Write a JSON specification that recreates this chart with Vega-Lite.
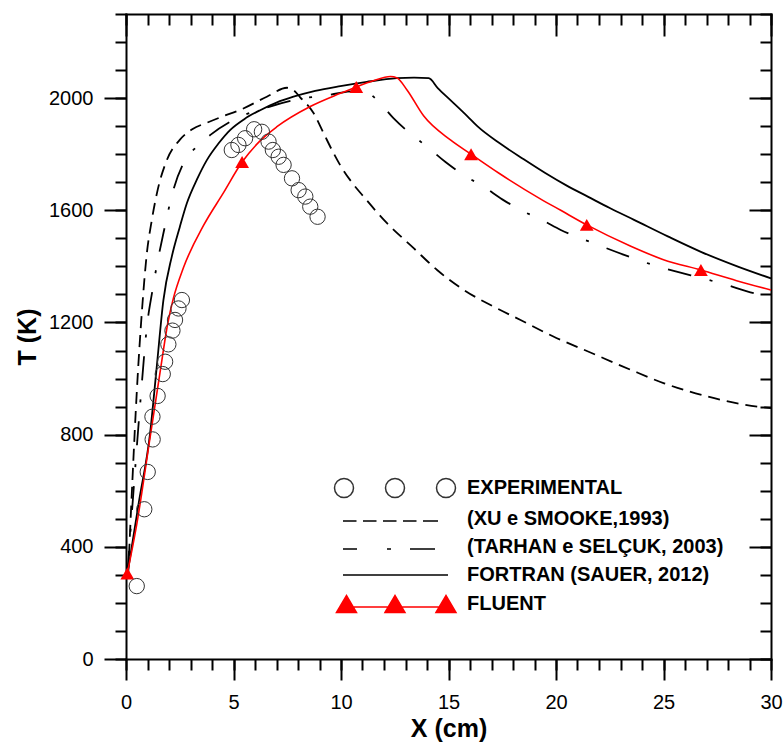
{
  "$schema": "https://vega.github.io/schema/vega-lite/v6.json",
  "width": 645,
  "height": 645,
  "autosize": {"type": "none"},
  "padding": {"left": 126, "top": 14, "right": 12, "bottom": 83},
  "background": "white",
  "config": {
    "view": {"stroke": null},
    "font": "Liberation Sans",
    "axis": {
      "grid": false,
      "domainColor": "black",
      "domainWidth": 2,
      "domainCap": "square",
      "tickColor": "black",
      "tickWidth": 2,
      "labelFont": "Liberation Sans",
      "labelFontSize": 20,
      "labelColor": "black",
      "labelFlush": false,
      "labelOverlap": false,
      "titleFont": "Liberation Sans",
      "titleFontSize": 25,
      "titleFontWeight": "bold",
      "titleColor": "black"
    }
  },
  "datasets": {
    "xu": [
      {"x": 0.1, "T": 300}, {"x": 0.3, "T": 640}, {"x": 0.5, "T": 950}, {"x": 0.75, "T": 1250},
      {"x": 0.96, "T": 1440}, {"x": 1.2, "T": 1565}, {"x": 1.45, "T": 1665}, {"x": 1.9, "T": 1779},
      {"x": 2.5, "T": 1851}, {"x": 3.1, "T": 1890}, {"x": 3.76, "T": 1912}, {"x": 4.5, "T": 1935},
      {"x": 5.31, "T": 1958}, {"x": 6.55, "T": 2005}, {"x": 7.49, "T": 2037}, {"x": 7.8, "T": 2028},
      {"x": 8.1, "T": 2003}, {"x": 8.73, "T": 1946}, {"x": 9.19, "T": 1875}, {"x": 9.66, "T": 1803},
      {"x": 9.97, "T": 1760}, {"x": 10.5, "T": 1700}, {"x": 11.05, "T": 1649}, {"x": 12.14, "T": 1554}, {"x": 13.38, "T": 1465},
      {"x": 14.47, "T": 1387}, {"x": 15.71, "T": 1316}, {"x": 17.11, "T": 1256}, {"x": 18.35, "T": 1209},
      {"x": 19.9, "T": 1149}, {"x": 21.6, "T": 1093}, {"x": 23.48, "T": 1031}, {"x": 25.03, "T": 983},
      {"x": 27.36, "T": 930}, {"x": 29.38, "T": 900}, {"x": 30, "T": 895}
    ],
    "tarhan": [
      {"x": 0.06, "T": 300}, {"x": 0.35, "T": 600}, {"x": 0.65, "T": 900}, {"x": 0.99, "T": 1197},
      {"x": 1.22, "T": 1310}, {"x": 1.45, "T": 1410}, {"x": 1.74, "T": 1518}, {"x": 2.2, "T": 1672},
      {"x": 2.75, "T": 1779}, {"x": 3.29, "T": 1827}, {"x": 3.91, "T": 1868}, {"x": 5.0, "T": 1922},
      {"x": 6.7, "T": 1970}, {"x": 8.0, "T": 1996}, {"x": 9.5, "T": 2012}, {"x": 10.6, "T": 2025},
      {"x": 11.2, "T": 2020}, {"x": 11.68, "T": 1993}, {"x": 12.45, "T": 1928}, {"x": 13.2, "T": 1875},
      {"x": 14.0, "T": 1827}, {"x": 14.86, "T": 1772}, {"x": 15.7, "T": 1726}, {"x": 16.64, "T": 1684},
      {"x": 17.5, "T": 1639}, {"x": 18.35, "T": 1601}, {"x": 19.36, "T": 1565}, {"x": 20.22, "T": 1530},
      {"x": 21.77, "T": 1482}, {"x": 23.17, "T": 1441}, {"x": 24.64, "T": 1402}, {"x": 26.27, "T": 1368},
      {"x": 27.8, "T": 1337}, {"x": 29.22, "T": 1304}, {"x": 30, "T": 1293}
    ],
    "fortran": [
      {"x": 0.06, "T": 300}, {"x": 0.6, "T": 560}, {"x": 1.12, "T": 805}, {"x": 1.43, "T": 1042},
      {"x": 1.74, "T": 1280}, {"x": 2.13, "T": 1435}, {"x": 2.5, "T": 1540}, {"x": 2.83, "T": 1625},
      {"x": 3.3, "T": 1710}, {"x": 3.76, "T": 1779}, {"x": 4.3, "T": 1838}, {"x": 4.84, "T": 1886},
      {"x": 5.5, "T": 1925}, {"x": 6.24, "T": 1957}, {"x": 7.0, "T": 1984}, {"x": 7.79, "T": 2005},
      {"x": 8.8, "T": 2026}, {"x": 9.97, "T": 2043}, {"x": 11.2, "T": 2058}, {"x": 12.6, "T": 2071},
      {"x": 13.4, "T": 2073}, {"x": 14.08, "T": 2071}, {"x": 14.5, "T": 2036}, {"x": 15.09, "T": 1993},
      {"x": 15.87, "T": 1936}, {"x": 16.34, "T": 1900}, {"x": 17.4, "T": 1838}, {"x": 18.5, "T": 1782},
      {"x": 19.5, "T": 1733}, {"x": 20.5, "T": 1688}, {"x": 21.5, "T": 1648}, {"x": 22.5, "T": 1608},
      {"x": 23.63, "T": 1566}, {"x": 25.2, "T": 1507}, {"x": 26.74, "T": 1452}, {"x": 28.4, "T": 1401},
      {"x": 30, "T": 1357}
    ],
    "fluent": [
      {"x": 0.06, "T": 305}, {"x": 0.5, "T": 480}, {"x": 1.12, "T": 790}, {"x": 1.58, "T": 1020},
      {"x": 1.95, "T": 1200}, {"x": 2.2, "T": 1285}, {"x": 2.67, "T": 1395}, {"x": 3.6, "T": 1545},
      {"x": 4.53, "T": 1662}, {"x": 5.4, "T": 1772}, {"x": 6.2, "T": 1845}, {"x": 7.02, "T": 1898},
      {"x": 8.57, "T": 1970}, {"x": 9.97, "T": 2017}, {"x": 10.71, "T": 2040}, {"x": 11.5, "T": 2062},
      {"x": 12.3, "T": 2077}, {"x": 12.61, "T": 2072}, {"x": 13.07, "T": 2029}, {"x": 13.85, "T": 1936},
      {"x": 15.09, "T": 1851}, {"x": 16.05, "T": 1800}, {"x": 17.35, "T": 1732}, {"x": 19.29, "T": 1640},
      {"x": 20.22, "T": 1600}, {"x": 21.43, "T": 1548}, {"x": 23.48, "T": 1472}, {"x": 25.0, "T": 1424},
      {"x": 26.74, "T": 1387}, {"x": 28.4, "T": 1349}, {"x": 30, "T": 1316}
    ],
    "fluent_markers": [
      {"x": 0.06, "T": 305}, {"x": 5.4, "T": 1772}, {"x": 10.71, "T": 2040},
      {"x": 16.05, "T": 1800}, {"x": 21.43, "T": 1548}, {"x": 26.74, "T": 1387}
    ],
    "experimental": [
      {"x": 0.5, "T": 260}, {"x": 0.85, "T": 534}, {"x": 1.01, "T": 667}, {"x": 1.24, "T": 783},
      {"x": 1.23, "T": 864}, {"x": 1.47, "T": 938}, {"x": 1.71, "T": 1016}, {"x": 1.82, "T": 1060},
      {"x": 1.97, "T": 1122}, {"x": 2.16, "T": 1171}, {"x": 2.28, "T": 1209}, {"x": 2.44, "T": 1250},
      {"x": 2.6, "T": 1280},
      {"x": 4.92, "T": 1815}, {"x": 5.23, "T": 1833}, {"x": 5.54, "T": 1857}, {"x": 5.96, "T": 1889},
      {"x": 6.32, "T": 1880}, {"x": 6.63, "T": 1845}, {"x": 6.83, "T": 1815}, {"x": 7.1, "T": 1791},
      {"x": 7.33, "T": 1762}, {"x": 7.72, "T": 1714}, {"x": 8.03, "T": 1672}, {"x": 8.34, "T": 1649},
      {"x": 8.57, "T": 1613}, {"x": 8.91, "T": 1577}
    ],
    "series": [
      {"series": "EXPERIMENTAL"},
      {"series": "(XU e SMOOKE,1993)"},
      {"series": "(TARHAN e SELÇUK, 2003)"},
      {"series": "FORTRAN (SAUER, 2012)"},
      {"series": "FLUENT"}
    ]
  },
  "resolve": {"axis": {"x": "independent", "y": "independent"}},
  "layer": [
    {
      "data": {"name": "xu"},
      "mark": {"type": "line", "color": "black", "strokeWidth": 1.8, "strokeDash": [12, 7], "interpolate": "monotone"},
      "encoding": {
        "x": {"field": "x", "type": "quantitative", "scale": {"domain": [0, 30], "nice": false, "zero": false},
          "axis": {"orient": "bottom", "values": [0, 5, 10, 15, 20, 25, 30], "format": "d", "tickSize": 21, "labelPadding": 12, "title": "X (cm)", "titlePadding": 4}},
        "y": {"field": "T", "type": "quantitative", "scale": {"domain": [0, 2300], "nice": false, "zero": false},
          "axis": {"orient": "left", "values": [0, 400, 800, 1200, 1600, 2000], "format": "d", "tickSize": 22, "labelPadding": 11, "title": "T (K)", "titlePadding": 8}}
      }
    },
    {
      "data": {"name": "tarhan"},
      "mark": {"type": "line", "color": "black", "strokeWidth": 1.8, "strokeDash": [24, 19, 3, 19], "interpolate": "monotone"},
      "encoding": {
        "x": {"field": "x", "type": "quantitative", "scale": {"domain": [0, 30], "nice": false, "zero": false},
          "axis": {"orient": "bottom", "values": [0,1,2,3,4,5,6,7,8,9,10,11,12,13,14,15,16,17,18,19,20,21,22,23,24,25,26,27,28,29,30], "tickSize": 11, "labels": false, "domain": false, "title": null}},
        "y": {"field": "T", "type": "quantitative", "scale": {"domain": [0, 2300], "nice": false, "zero": false},
          "axis": {"orient": "left", "values": [0,100,200,300,400,500,600,700,800,900,1000,1100,1200,1300,1400,1500,1600,1700,1800,1900,2000,2100,2200,2300], "tickSize": 11, "labels": false, "domain": false, "title": null}}
      }
    },
    {
      "data": {"name": "fortran"},
      "mark": {"type": "line", "color": "black", "strokeWidth": 1.8, "interpolate": "monotone"},
      "encoding": {
        "x": {"field": "x", "type": "quantitative", "scale": {"domain": [0, 30], "nice": false, "zero": false},
          "axis": {"orient": "top", "values": [0, 5, 10, 15, 20, 25, 30], "tickSize": -22, "labels": false, "domain": true, "title": null}},
        "y": {"field": "T", "type": "quantitative", "scale": {"domain": [0, 2300], "nice": false, "zero": false},
          "axis": {"orient": "right", "values": [0, 400, 800, 1200, 1600, 2000], "tickSize": -22, "labels": false, "domain": true, "title": null}}
      }
    },
    {
      "data": {"name": "fluent"},
      "mark": {"type": "line", "color": "#ff0000", "strokeWidth": 1.6, "interpolate": "monotone"},
      "encoding": {
        "x": {"field": "x", "type": "quantitative", "scale": {"domain": [0, 30], "nice": false, "zero": false},
          "axis": {"orient": "top", "values": [0,1,2,3,4,5,6,7,8,9,10,11,12,13,14,15,16,17,18,19,20,21,22,23,24,25,26,27,28,29,30], "tickSize": -11, "labels": false, "domain": false, "title": null}},
        "y": {"field": "T", "type": "quantitative", "scale": {"domain": [0, 2300], "nice": false, "zero": false},
          "axis": {"orient": "right", "values": [0,100,200,300,400,500,600,700,800,900,1000,1100,1200,1300,1400,1500,1600,1700,1800,1900,2000,2100,2200,2300], "tickSize": -11, "labels": false, "domain": false, "title": null}}
      }
    },
    {
      "data": {"name": "fluent_markers"},
      "mark": {"type": "point", "shape": "triangle-up", "filled": true, "color": "#ff0000", "opacity": 1, "size": 190},
      "encoding": {
        "x": {"field": "x", "type": "quantitative", "scale": {"domain": [0, 30], "nice": false, "zero": false}, "axis": null},
        "y": {"field": "T", "type": "quantitative", "scale": {"domain": [0, 2300], "nice": false, "zero": false}, "axis": null}
      }
    },
    {
      "data": {"name": "experimental"},
      "mark": {"type": "point", "shape": "circle", "filled": false, "color": "#333333", "strokeWidth": 1, "opacity": 1, "size": 235},
      "encoding": {
        "x": {"field": "x", "type": "quantitative", "scale": {"domain": [0, 30], "nice": false, "zero": false}, "axis": null},
        "y": {"field": "T", "type": "quantitative", "scale": {"domain": [0, 2300], "nice": false, "zero": false}, "axis": null}
      }
    },
    {
      "data": {"name": "series"},
      "mark": {"type": "point", "opacity": 0},
      "encoding": {
        "shape": {
          "field": "series", "type": "nominal",
          "scale": {
            "domain": ["EXPERIMENTAL", "(XU e SMOOKE,1993)", "(TARHAN e SELÇUK, 2003)", "FORTRAN (SAUER, 2012)", "FLUENT"],
            "range": [
              "M -6.05 0 A 0.95 0.95 0 1 1 -4.15 0 A 0.95 0.95 0 1 1 -6.05 0 M -0.95 0 A 0.95 0.95 0 1 1 0.95 0 A 0.95 0.95 0 1 1 -0.95 0 M 4.15 0 A 0.95 0.95 0 1 1 6.05 0 A 0.95 0.95 0 1 1 4.15 0",
              "M -5.2 0.2 L -3.85 0.2 M -3.2 0.2 L -1.85 0.2 M -1.2 0.2 L 0.15 0.2 M 0.8 0.2 L 2.15 0.2 M 2.8 0.2 L 4.3 0.2",
              "M -5.2 0.2 L -3.8 0.2 M -0.8 0.2 L -0.4 0.2 M 1.5 0.2 L 4.0 0.2",
              "M -5.2 0 L 5.3 0",
              "M -5.2 0.3 L 5.3 0.3 M -5.85 0.85 L -4.85 -0.85 L -3.85 0.85 Z M -1.0 0.85 L 0 -0.85 L 1.0 0.85 Z M 4.1 0.85 L 5.1 -0.85 L 6.1 0.85 Z"
            ]
          },
          "legend": {"orient": "none", "legendX": 258, "legendY": 463, "direction": "vertical", "title": null, "padding": 0, "rowPadding": 7, "symbolSize": 400, "symbolStrokeWidth": 1.5, "symbolOpacity": 1, "symbolOffset": 0, "labelFont": "Liberation Sans", "labelFontSize": 20, "labelFontWeight": "bold", "labelColor": "black", "labelOffset": 61, "labelLimit": 400}
        },
        "fill": {
          "field": "series", "type": "nominal",
          "scale": {
            "domain": ["EXPERIMENTAL", "(XU e SMOOKE,1993)", "(TARHAN e SELÇUK, 2003)", "FORTRAN (SAUER, 2012)", "FLUENT"],
            "range": ["transparent", "transparent", "transparent", "transparent", "#ff0000"]
          },
          "legend": {"orient": "none", "legendX": 258, "legendY": 463, "direction": "vertical", "title": null, "padding": 0, "rowPadding": 7, "symbolSize": 400, "symbolStrokeWidth": 1.5, "symbolOpacity": 1, "symbolOffset": 0, "labelFont": "Liberation Sans", "labelFontSize": 20, "labelFontWeight": "bold", "labelColor": "black", "labelOffset": 61, "labelLimit": 400}
        },
        "stroke": {
          "field": "series", "type": "nominal",
          "scale": {
            "domain": ["EXPERIMENTAL", "(XU e SMOOKE,1993)", "(TARHAN e SELÇUK, 2003)", "FORTRAN (SAUER, 2012)", "FLUENT"],
            "range": ["#333333", "black", "black", "black", "#ff0000"]
          },
          "legend": {"orient": "none", "legendX": 258, "legendY": 463, "direction": "vertical", "title": null, "padding": 0, "rowPadding": 7, "symbolSize": 400, "symbolStrokeWidth": 1.5, "symbolOpacity": 1, "symbolOffset": 0, "labelFont": "Liberation Sans", "labelFontSize": 20, "labelFontWeight": "bold", "labelColor": "black", "labelOffset": 61, "labelLimit": 400}
        }
      }
    }
  ]
}
